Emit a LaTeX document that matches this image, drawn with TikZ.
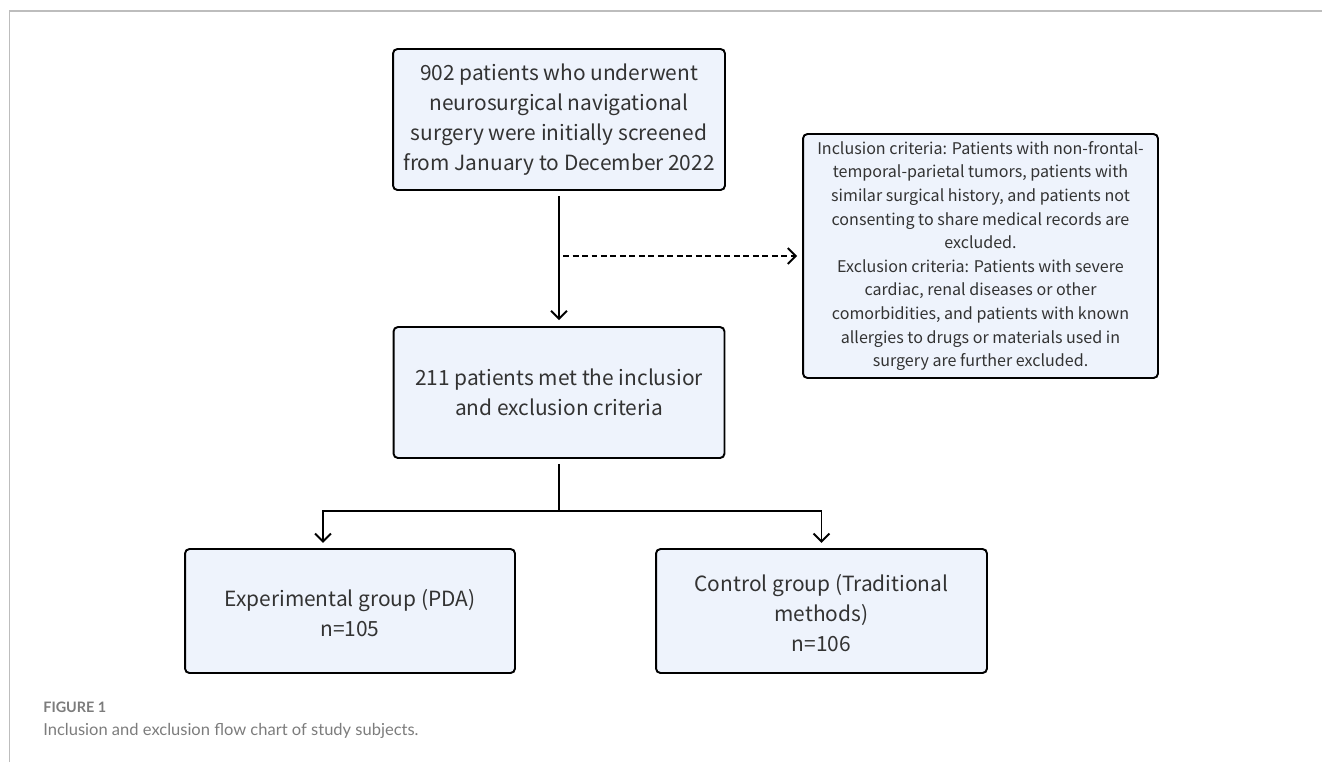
\documentclass[tikz,border=0pt]{standalone}
\usepackage{fontspec}
\newfontfamily\flowfont{Noto Sans CJK SC}
\newfontfamily\capfont{Lato}
\usepackage{tikz}
\usetikzlibrary{arrows.meta}
\usetikzlibrary{calc}
\definecolor{boxfill}{HTML}{EEF3FC}
\definecolor{boxtext}{HTML}{333333}
\definecolor{framegrey}{HTML}{BDBDBD}
\definecolor{capgrey}{HTML}{7C7C7C}

\begin{document}
\begin{tikzpicture}[
    x=0.02cm, y=-0.02cm,
    flow box/.style={
        draw=black, line width=1.1pt, fill=boxfill,
        rounded corners=2.5pt, align=center, inner sep=0pt,
        text=boxtext, font=\flowfont\fontsize{11.9}{17}\selectfont
    },
    small box/.style={
        flow box, font=\flowfont\fontsize{9.15}{13.45}\selectfont
    },
    flow line/.style={line width=1.1pt},
    flow arrow/.style={
        flow line,
        -{Straight Barb[length=4.5pt,width=9pt,line width=1.1pt]}
    },
    dash arrow/.style={
        flow arrow, dash pattern=on 3.4pt off 2pt
    }
  ]

  \useasboundingbox (0,0) rectangle (1322,762);
  \draw[framegrey, line width=1.1pt] (9.5,762) -- (9.5,11) -- (1322,11);

  \node[flow box, minimum width=6.64cm, minimum height=2.82cm] (screened) at (559,119.5)
    {902 patients who underwent\\ neurosurgical navigational\\ surgery were initially screened\\ from January to December 2022};

  \node[small box, minimum width=7.10cm, minimum height=4.88cm] (criteria) at (980.5,256)
    {Inclusion criteria: Patients with non-frontal-\\ temporal-parietal tumors, patients with\\ similar surgical history, and patients not\\ consenting to share medical records are\\ excluded.\\ Exclusion criteria: Patients with severe\\ cardiac, renal diseases or other\\ comorbidities, and patients with known\\ allergies to drugs or materials used in\\ surgery are further excluded.};

  \node[flow box, minimum width=6.62cm, minimum height=2.62cm] (eligible) at (559,392.5)
    {211 patients met the inclusior\\ and exclusion criteria};

  \node[flow box, minimum width=6.60cm, minimum height=2.48cm] (pda) at (350,611)
    {\strut Experimental group (PDA)\\ n=105};

  \node[flow box, minimum width=6.62cm, minimum height=2.48cm] (control) at (821.5,611)
    {\strut Control group (Traditional\\ methods)\\ n=106};

  % connectors
  \coordinate (branch) at (screened.south |- criteria.west);
  \coordinate (split) at (559,511);
  \coordinate (left drop) at (323,511);

  \draw[flow arrow, shorten <=2.8pt, shorten >=3.4pt] (screened.south) -- (eligible.north);
  \draw[dash arrow, shorten <=2.3pt, shorten >=2.8pt] (branch) -- (criteria.west);

  \draw[flow line, shorten <=2.8pt] (eligible.south) -- (split);
  \draw[flow arrow, shorten >=3pt] (split) -- (left drop) -- (left drop |- pda.north);
  \draw[flow arrow, shorten >=3pt] (split) -| (control.north);

  % caption
  \node[anchor=west, inner sep=0pt, text=capgrey, font=\capfont\bfseries\fontsize{8.2}{10}\selectfont] (fig label) at (43,707) {FIGURE 1};
  \node[anchor=west, inner sep=0pt, text=capgrey, font=\capfont\fontsize{9.4}{12}\selectfont] (fig caption) at (43,731) {Inclusion and exclusion flow chart of study subjects.};

\end{tikzpicture}
\end{document}
